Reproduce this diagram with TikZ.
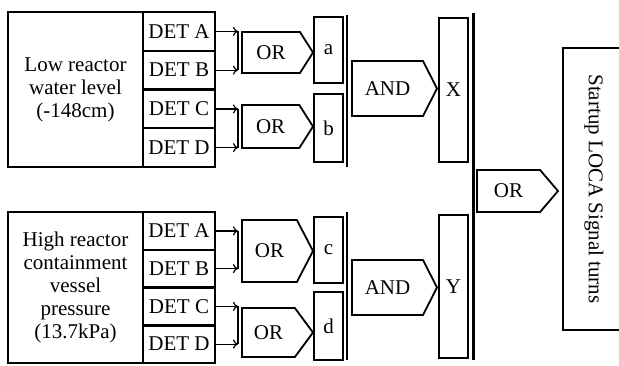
\documentclass[tikz,border=0pt]{standalone}
\usepackage{fontspec}
\setmainfont{Liberation Serif}
\usetikzlibrary{shapes.symbols,arrows.meta}

\begin{document}
\begin{tikzpicture}
[x=0.5pt,y=-0.5pt,font=\fontsize{10.5}{11.5}\selectfont,>={To[length=2.5pt,width=4.5pt]},
 box/.style={draw,line width=0.9pt,inner sep=0pt,outer sep=0pt},
 det/.style={box,minimum width=36pt,minimum height=19.2pt},
 gate/.style={box,signal,signal to=east,signal pointer angle=115,minimum width=35.5pt,anchor=west},
 bit/.style={box,minimum width=14.5pt},
 wire/.style={line width=0.6pt},
 bus/.style={line width=0.8pt}]
\useasboundingbox (0,0) rectangle (619,365);
% level trip
\node[box,minimum width=67.5pt,minimum height=77.5pt,align=center] (low) at (75.5,89.5) {Low reactor\\water level\\(-148cm)};
\node[det] (la) at (179,31.4) {DET A};
\node[det] (lb) at (179,70.1) {DET B};
\node[det] (lc) at (179,108.9) {DET C};
\node[det] (ld) at (179,147.6) {DET D};
% pressure trip
\node[box,minimum width=67.5pt,minimum height=75.5pt,align=center] (high) at (75.5,287.5) {High reactor\\containment\\vessel\\pressure\\(13.7kPa)};
\node[det] (ha) at (179,230.9) {DET A};
\node[det] (hb) at (179,268.6) {DET B};
\node[det] (hc) at (179,306.4) {DET C};
\node[det] (hd) at (179,344.1) {DET D};
\coordinate (in) at (238,0);
\draw[wire,->] (la.east) -- (la.east -| in);
\draw[wire,->] (lb.east) -- (lb.east -| in);
\draw[wire,->] (lc.east) -- (lc.east -| in);
\draw[wire,->] (ld.east) -- (ld.east -| in);
\draw[wire,->] (ha.east) -- (ha.east -| in);
\draw[wire,->] (hb.east) -- (hb.east -| in);
\draw[wire,->] (hc.east) -- (hc.east -| in);
\draw[wire,->] (hd.east) -- (hd.east -| in);
\draw[bus] (la.east -| in) -- (lb.east -| in);
\draw[bus] (lc.east -| in) -- (ld.east -| in);
\draw[bus] (ha.east -| in) -- (hb.east -| in);
\draw[bus] (hc.east -| in) -- (hd.east -| in);
% first OR stage
\node[gate,minimum height=20.5pt] (or1) at (242,52.5) {OR};
\node[gate,minimum height=21.5pt] (or2) at (242,126.5) {OR};
\node[gate,minimum height=31pt,signal pointer angle=125] (or3) at (242,251) {OR};
\node[gate,minimum height=24.5pt,signal pointer angle=107] (or4) at (242,332.5) {OR};
\node[bit,minimum height=33pt] (a) at (328.5,50) {a};
\node[bit,minimum height=34pt] (b) at (328.5,128) {b};
\node[bit,minimum height=33pt] (c) at (328.5,250) {c};
\node[bit,minimum height=34pt] (d) at (328.5,326) {d};
\draw[bus] (347,15) -- (347,167);
\draw[bus] (347,212) -- (347,360);
% AND stage
\node[gate,minimum width=42.5pt,minimum height=27.5pt,signal pointer angle=126] (and1) at (352,88.5) {AND};
\node[gate,minimum width=42.5pt,minimum height=27.5pt,signal pointer angle=126] (and2) at (352,287.5) {AND};
\node[bit,minimum height=72pt] (x) at (453.5,90) {X};
\node[bit,minimum height=71.5pt] (y) at (453.5,286.5) {Y};
\draw[line width=1.5pt] (473,13) -- (473,360);
% output
\node[gate,minimum width=40.5pt,minimum height=21pt,signal pointer angle=99] (or5) at (477,191) {OR};
\node[box,rotate=-90,minimum width=141pt,minimum height=31pt] (out) at (594,189) {Startup LOCA Signal turns};
\end{tikzpicture}
\end{document}
